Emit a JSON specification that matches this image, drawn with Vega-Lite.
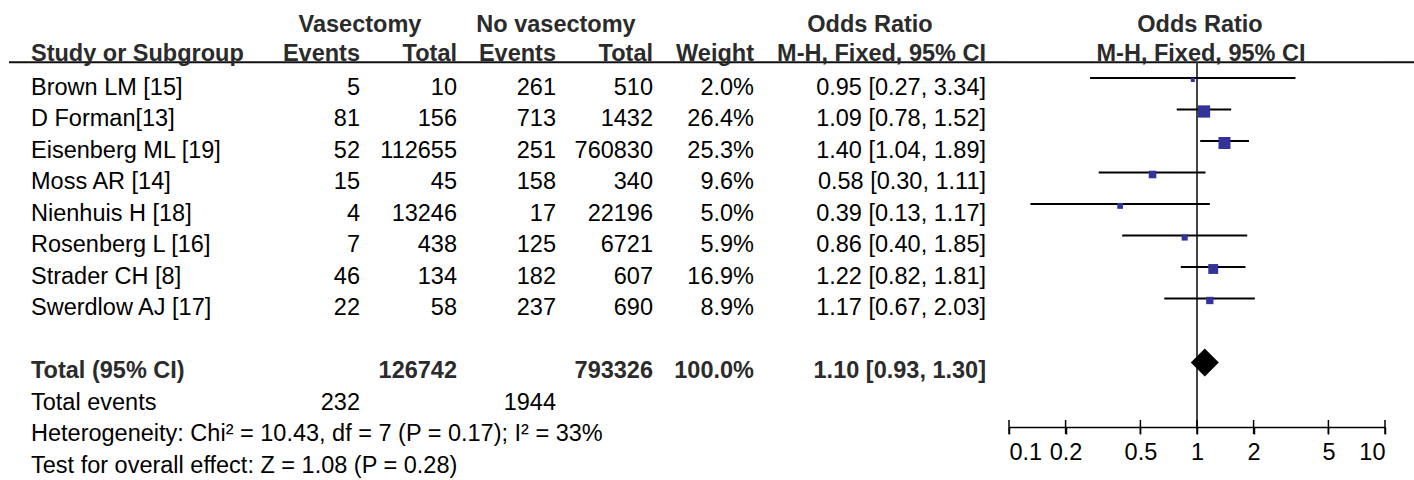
{
  "$schema": "https://vega.github.io/schema/vega-lite/v6.json",
  "padding": {"left": 8, "top": 0, "right": 0, "bottom": 0},
  "bounds": "flush",
  "spacing": 0,
  "config": {
    "view": {"stroke": null},
    "text": {"font": "Liberation Sans", "fontSize": 23.5, "baseline": "alphabetic", "dy": 17, "color": "#000"}
  },
  "datasets": {
    "table": [
      {"row": 0, "study": "Brown LM [15]", "ev1": 5, "tot1": 10, "ev2": 261, "tot2": 510, "w": 0.020, "ci": "0.95 [0.27, 3.34]", "or": 0.95, "lo": 0.27, "hi": 3.34},
      {"row": 1, "study": "D Forman[13]", "ev1": 81, "tot1": 156, "ev2": 713, "tot2": 1432, "w": 0.264, "ci": "1.09 [0.78, 1.52]", "or": 1.09, "lo": 0.78, "hi": 1.52},
      {"row": 2, "study": "Eisenberg ML [19]", "ev1": 52, "tot1": 112655, "ev2": 251, "tot2": 760830, "w": 0.253, "ci": "1.40 [1.04, 1.89]", "or": 1.40, "lo": 1.04, "hi": 1.89},
      {"row": 3, "study": "Moss AR [14]", "ev1": 15, "tot1": 45, "ev2": 158, "tot2": 340, "w": 0.096, "ci": "0.58 [0.30, 1.11]", "or": 0.58, "lo": 0.30, "hi": 1.11},
      {"row": 4, "study": "Nienhuis H [18]", "ev1": 4, "tot1": 13246, "ev2": 17, "tot2": 22196, "w": 0.050, "ci": "0.39 [0.13, 1.17]", "or": 0.39, "lo": 0.13, "hi": 1.17},
      {"row": 5, "study": "Rosenberg L [16]", "ev1": 7, "tot1": 438, "ev2": 125, "tot2": 6721, "w": 0.059, "ci": "0.86 [0.40, 1.85]", "or": 0.86, "lo": 0.40, "hi": 1.85},
      {"row": 6, "study": "Strader CH [8]", "ev1": 46, "tot1": 134, "ev2": 182, "tot2": 607, "w": 0.169, "ci": "1.22 [0.82, 1.81]", "or": 1.22, "lo": 0.82, "hi": 1.81},
      {"row": 7, "study": "Swerdlow AJ [17]", "ev1": 22, "tot1": 58, "ev2": 237, "tot2": 690, "w": 0.089, "ci": "1.17 [0.67, 2.03]", "or": 1.17, "lo": 0.67, "hi": 2.03},
      {"row": 9, "study": "Total (95% CI)", "tot1": 126742, "tot2": 793326, "w": 1.0, "ci": "1.10 [0.93, 1.30]", "or": 1.10, "lo": 0.93, "hi": 1.30},
      {"row": 10, "study": "Total events", "ev1": 232, "ev2": 1944},
      {"row": 11, "study": "Heterogeneity: Chi² = 10.43, df = 7 (P = 0.17); I² = 33%"},
      {"row": 12, "study": "Test for overall effect: Z = 1.08 (P = 0.28)"}
    ],
    "headers": [
      {"col": "study", "row": -1, "text": "Study or Subgroup"},
      {"col": "ev1", "row": -2, "text": "Vasectomy"},
      {"col": "ev1", "row": -1, "text": "Events"},
      {"col": "tot1", "row": -1, "text": "Total"},
      {"col": "ev2", "row": -2, "text": "No vasectomy"},
      {"col": "ev2", "row": -1, "text": "Events"},
      {"col": "tot2", "row": -1, "text": "Total"},
      {"col": "weight", "row": -1, "text": "Weight"},
      {"col": "ci", "row": -2, "text": "Odds Ratio"},
      {"col": "ci", "row": -1, "text": "M-H, Fixed, 95% CI"},
      {"col": "forest", "row": -2, "text": "Odds Ratio"},
      {"col": "forest", "row": -1, "text": "M-H, Fixed, 95% CI"}
    ],
    "ticks": [{"v": 0.1}, {"v": 0.2}, {"v": 0.5}, {"v": 1}, {"v": 2}, {"v": 5}, {"v": 10}],
    "one": [{}]
  },
  "hconcat": [
    {
      "width": 282, "height": 480,
      "layer": [
        {"data": {"name": "one"}, "mark": {"type": "rule", "strokeWidth": 2, "color": "#111"}, "encoding": {"y": {"datum": -0.5, "type": "quantitative", "scale": {"domain": [-2.476, 12.762], "reverse": true, "nice": false, "zero": false}, "axis": null}}},
        {"data": {"name": "table"}, "transform": [{"filter": "datum.row != 9"}], "mark": {"type": "text", "align": "left", "dx": 22},
         "encoding": {"x": {"datum": "c", "type": "nominal", "scale": {"type": "point", "align": 0}, "axis": null}, "y": {"field": "row", "type": "quantitative", "scale": {"domain": [-2.476, 12.762], "reverse": true, "nice": false, "zero": false}, "axis": null}, "text": {"field": "study", "type": "nominal"}}},
        {"data": {"name": "table"}, "transform": [{"filter": "datum.row == 9"}], "mark": {"type": "text", "align": "left", "dx": 22, "fontWeight": "bold", "color": "#2b2b2b"},
         "encoding": {"x": {"datum": "c", "type": "nominal", "scale": {"type": "point", "align": 0}, "axis": null}, "y": {"field": "row", "type": "quantitative", "scale": {"domain": [-2.476, 12.762], "reverse": true, "nice": false, "zero": false}, "axis": null}, "text": {"field": "study", "type": "nominal"}}},
        {"data": {"name": "headers"}, "transform": [{"filter": "datum.col == 'study'"}], "mark": {"type": "text", "align": "left", "dx": 22, "dy": 14.5, "fontWeight": "bold", "color": "#2b2b2b"},
         "encoding": {"x": {"datum": "c", "type": "nominal", "scale": {"type": "point", "align": 0}, "axis": null}, "y": {"field": "row", "type": "quantitative", "scale": {"domain": [-2.476, 12.762], "reverse": true, "nice": false, "zero": false}, "axis": null}, "text": {"field": "text", "type": "nominal"}}}
      ]
    },
    {
      "width": 69, "height": 480,
      "layer": [
        {"data": {"name": "one"}, "mark": {"type": "rule", "strokeWidth": 2, "color": "#111"}, "encoding": {"y": {"datum": -0.5, "type": "quantitative", "scale": {"domain": [-2.476, 12.762], "reverse": true, "nice": false, "zero": false}, "axis": null}}},
        {"data": {"name": "table"}, "transform": [{"filter": "isValid(datum.ev1)"}], "mark": {"type": "text", "align": "right"},
         "encoding": {"x": {"datum": "c", "type": "nominal", "scale": {"type": "point", "align": 1}, "axis": null}, "y": {"field": "row", "type": "quantitative", "scale": {"domain": [-2.476, 12.762], "reverse": true, "nice": false, "zero": false}, "axis": null}, "text": {"field": "ev1", "type": "quantitative", "format": "d"}}},
        {"data": {"name": "headers"}, "transform": [{"filter": "datum.col == 'ev1' && datum.row == -1"}], "mark": {"type": "text", "align": "right", "dy": 14.5, "fontWeight": "bold", "color": "#2b2b2b"},
         "encoding": {"x": {"datum": "c", "type": "nominal", "scale": {"type": "point", "align": 1}, "axis": null}, "y": {"field": "row", "type": "quantitative", "scale": {"domain": [-2.476, 12.762], "reverse": true, "nice": false, "zero": false}, "axis": null}, "text": {"field": "text", "type": "nominal"}}},
        {"data": {"name": "headers"}, "transform": [{"filter": "datum.col == 'ev1' && datum.row == -2"}], "mark": {"type": "text", "align": "center", "fontWeight": "bold", "color": "#2b2b2b"},
         "encoding": {"x": {"datum": "c", "type": "nominal", "scale": {"type": "point", "align": 1}, "axis": null}, "y": {"field": "row", "type": "quantitative", "scale": {"domain": [-2.476, 12.762], "reverse": true, "nice": false, "zero": false}, "axis": null}, "text": {"field": "text", "type": "nominal"}}}
      ]
    },
    {
      "width": 97, "height": 480,
      "layer": [
        {"data": {"name": "one"}, "mark": {"type": "rule", "strokeWidth": 2, "color": "#111"}, "encoding": {"y": {"datum": -0.5, "type": "quantitative", "scale": {"domain": [-2.476, 12.762], "reverse": true, "nice": false, "zero": false}, "axis": null}}},
        {"data": {"name": "table"}, "transform": [{"filter": "datum.row != 9 && isValid(datum.tot1)"}], "mark": {"type": "text", "align": "right"},
         "encoding": {"x": {"datum": "c", "type": "nominal", "scale": {"type": "point", "align": 1}, "axis": null}, "y": {"field": "row", "type": "quantitative", "scale": {"domain": [-2.476, 12.762], "reverse": true, "nice": false, "zero": false}, "axis": null}, "text": {"field": "tot1", "type": "quantitative", "format": "d"}}},
        {"data": {"name": "table"}, "transform": [{"filter": "datum.row == 9"}], "mark": {"type": "text", "align": "right", "fontWeight": "bold", "color": "#2b2b2b"},
         "encoding": {"x": {"datum": "c", "type": "nominal", "scale": {"type": "point", "align": 1}, "axis": null}, "y": {"field": "row", "type": "quantitative", "scale": {"domain": [-2.476, 12.762], "reverse": true, "nice": false, "zero": false}, "axis": null}, "text": {"field": "tot1", "type": "quantitative", "format": "d"}}},
        {"data": {"name": "headers"}, "transform": [{"filter": "datum.col == 'tot1'"}], "mark": {"type": "text", "align": "right", "dy": 14.5, "fontWeight": "bold", "color": "#2b2b2b"},
         "encoding": {"x": {"datum": "c", "type": "nominal", "scale": {"type": "point", "align": 1}, "axis": null}, "y": {"field": "row", "type": "quantitative", "scale": {"domain": [-2.476, 12.762], "reverse": true, "nice": false, "zero": false}, "axis": null}, "text": {"field": "text", "type": "nominal"}}}
      ]
    },
    {
      "width": 99, "height": 480,
      "layer": [
        {"data": {"name": "one"}, "mark": {"type": "rule", "strokeWidth": 2, "color": "#111"}, "encoding": {"y": {"datum": -0.5, "type": "quantitative", "scale": {"domain": [-2.476, 12.762], "reverse": true, "nice": false, "zero": false}, "axis": null}}},
        {"data": {"name": "table"}, "transform": [{"filter": "isValid(datum.ev2)"}], "mark": {"type": "text", "align": "right"},
         "encoding": {"x": {"datum": "c", "type": "nominal", "scale": {"type": "point", "align": 1}, "axis": null}, "y": {"field": "row", "type": "quantitative", "scale": {"domain": [-2.476, 12.762], "reverse": true, "nice": false, "zero": false}, "axis": null}, "text": {"field": "ev2", "type": "quantitative", "format": "d"}}},
        {"data": {"name": "headers"}, "transform": [{"filter": "datum.col == 'ev2' && datum.row == -1"}], "mark": {"type": "text", "align": "right", "dy": 14.5, "fontWeight": "bold", "color": "#2b2b2b"},
         "encoding": {"x": {"datum": "c", "type": "nominal", "scale": {"type": "point", "align": 1}, "axis": null}, "y": {"field": "row", "type": "quantitative", "scale": {"domain": [-2.476, 12.762], "reverse": true, "nice": false, "zero": false}, "axis": null}, "text": {"field": "text", "type": "nominal"}}},
        {"data": {"name": "headers"}, "transform": [{"filter": "datum.col == 'ev2' && datum.row == -2"}], "mark": {"type": "text", "align": "center", "fontWeight": "bold", "color": "#2b2b2b"},
         "encoding": {"x": {"datum": "c", "type": "nominal", "scale": {"type": "point", "align": 1}, "axis": null}, "y": {"field": "row", "type": "quantitative", "scale": {"domain": [-2.476, 12.762], "reverse": true, "nice": false, "zero": false}, "axis": null}, "text": {"field": "text", "type": "nominal"}}}
      ]
    },
    {
      "width": 97, "height": 480,
      "layer": [
        {"data": {"name": "one"}, "mark": {"type": "rule", "strokeWidth": 2, "color": "#111"}, "encoding": {"y": {"datum": -0.5, "type": "quantitative", "scale": {"domain": [-2.476, 12.762], "reverse": true, "nice": false, "zero": false}, "axis": null}}},
        {"data": {"name": "table"}, "transform": [{"filter": "datum.row != 9 && isValid(datum.tot2)"}], "mark": {"type": "text", "align": "right"},
         "encoding": {"x": {"datum": "c", "type": "nominal", "scale": {"type": "point", "align": 1}, "axis": null}, "y": {"field": "row", "type": "quantitative", "scale": {"domain": [-2.476, 12.762], "reverse": true, "nice": false, "zero": false}, "axis": null}, "text": {"field": "tot2", "type": "quantitative", "format": "d"}}},
        {"data": {"name": "table"}, "transform": [{"filter": "datum.row == 9"}], "mark": {"type": "text", "align": "right", "fontWeight": "bold", "color": "#2b2b2b"},
         "encoding": {"x": {"datum": "c", "type": "nominal", "scale": {"type": "point", "align": 1}, "axis": null}, "y": {"field": "row", "type": "quantitative", "scale": {"domain": [-2.476, 12.762], "reverse": true, "nice": false, "zero": false}, "axis": null}, "text": {"field": "tot2", "type": "quantitative", "format": "d"}}},
        {"data": {"name": "headers"}, "transform": [{"filter": "datum.col == 'tot2'"}], "mark": {"type": "text", "align": "right", "dy": 14.5, "fontWeight": "bold", "color": "#2b2b2b"},
         "encoding": {"x": {"datum": "c", "type": "nominal", "scale": {"type": "point", "align": 1}, "axis": null}, "y": {"field": "row", "type": "quantitative", "scale": {"domain": [-2.476, 12.762], "reverse": true, "nice": false, "zero": false}, "axis": null}, "text": {"field": "text", "type": "nominal"}}}
      ]
    },
    {
      "width": 101, "height": 480,
      "layer": [
        {"data": {"name": "one"}, "mark": {"type": "rule", "strokeWidth": 2, "color": "#111"}, "encoding": {"y": {"datum": -0.5, "type": "quantitative", "scale": {"domain": [-2.476, 12.762], "reverse": true, "nice": false, "zero": false}, "axis": null}}},
        {"data": {"name": "table"}, "transform": [{"filter": "datum.row != 9 && isValid(datum.w)"}], "mark": {"type": "text", "align": "right"},
         "encoding": {"x": {"datum": "c", "type": "nominal", "scale": {"type": "point", "align": 1}, "axis": null}, "y": {"field": "row", "type": "quantitative", "scale": {"domain": [-2.476, 12.762], "reverse": true, "nice": false, "zero": false}, "axis": null}, "text": {"field": "w", "type": "quantitative", "format": ".1%"}}},
        {"data": {"name": "table"}, "transform": [{"filter": "datum.row == 9"}], "mark": {"type": "text", "align": "right", "fontWeight": "bold", "color": "#2b2b2b"},
         "encoding": {"x": {"datum": "c", "type": "nominal", "scale": {"type": "point", "align": 1}, "axis": null}, "y": {"field": "row", "type": "quantitative", "scale": {"domain": [-2.476, 12.762], "reverse": true, "nice": false, "zero": false}, "axis": null}, "text": {"field": "w", "type": "quantitative", "format": ".1%"}}},
        {"data": {"name": "headers"}, "transform": [{"filter": "datum.col == 'weight'"}], "mark": {"type": "text", "align": "right", "dy": 14.5, "fontWeight": "bold", "color": "#2b2b2b"},
         "encoding": {"x": {"datum": "c", "type": "nominal", "scale": {"type": "point", "align": 1}, "axis": null}, "y": {"field": "row", "type": "quantitative", "scale": {"domain": [-2.476, 12.762], "reverse": true, "nice": false, "zero": false}, "axis": null}, "text": {"field": "text", "type": "nominal"}}}
      ]
    },
    {
      "width": 232, "height": 480,
      "layer": [
        {"data": {"name": "one"}, "mark": {"type": "rule", "strokeWidth": 2, "color": "#111"}, "encoding": {"y": {"datum": -0.5, "type": "quantitative", "scale": {"domain": [-2.476, 12.762], "reverse": true, "nice": false, "zero": false}, "axis": null}}},
        {"data": {"name": "table"}, "transform": [{"filter": "datum.row != 9 && isValid(datum.ci)"}], "mark": {"type": "text", "align": "right"},
         "encoding": {"x": {"datum": "c", "type": "nominal", "scale": {"type": "point", "align": 1}, "axis": null}, "y": {"field": "row", "type": "quantitative", "scale": {"domain": [-2.476, 12.762], "reverse": true, "nice": false, "zero": false}, "axis": null}, "text": {"field": "ci", "type": "nominal"}}},
        {"data": {"name": "table"}, "transform": [{"filter": "datum.row == 9"}], "mark": {"type": "text", "align": "right", "fontWeight": "bold", "color": "#2b2b2b"},
         "encoding": {"x": {"datum": "c", "type": "nominal", "scale": {"type": "point", "align": 1}, "axis": null}, "y": {"field": "row", "type": "quantitative", "scale": {"domain": [-2.476, 12.762], "reverse": true, "nice": false, "zero": false}, "axis": null}, "text": {"field": "ci", "type": "nominal"}}},
        {"data": {"name": "headers"}, "transform": [{"filter": "datum.col == 'ci' && datum.row == -1"}], "mark": {"type": "text", "align": "right", "dy": 14.5, "fontWeight": "bold", "color": "#2b2b2b"},
         "encoding": {"x": {"datum": "c", "type": "nominal", "scale": {"type": "point", "align": 1}, "axis": null}, "y": {"field": "row", "type": "quantitative", "scale": {"domain": [-2.476, 12.762], "reverse": true, "nice": false, "zero": false}, "axis": null}, "text": {"field": "text", "type": "nominal"}}},
        {"data": {"name": "headers"}, "transform": [{"filter": "datum.col == 'ci' && datum.row == -2"}], "mark": {"type": "text", "align": "center", "fontWeight": "bold", "color": "#2b2b2b"},
         "encoding": {"y": {"field": "row", "type": "quantitative", "scale": {"domain": [-2.476, 12.762], "reverse": true, "nice": false, "zero": false}, "axis": null}, "text": {"field": "text", "type": "nominal"}}}
      ]
    },
    {
      "width": 23, "height": 480,
      "layer": [
        {"data": {"name": "one"}, "mark": {"type": "rule", "strokeWidth": 2, "color": "#111"}, "encoding": {"y": {"datum": -0.5, "type": "quantitative", "scale": {"domain": [-2.476, 12.762], "reverse": true, "nice": false, "zero": false}, "axis": null}}}
      ]
    },
    {
      "width": 376, "height": 480,
      "layer": [
        {"data": {"name": "one"}, "mark": {"type": "rule", "strokeWidth": 2, "color": "#111"}, "encoding": {"y": {"datum": -0.5, "type": "quantitative", "scale": {"domain": [-2.476, 12.762], "reverse": true, "nice": false, "zero": false}, "axis": null}}},
        {"data": {"name": "one"}, "mark": {"type": "rule", "strokeWidth": 2, "color": "#444"},
         "encoding": {
           "x": {"datum": 1, "type": "quantitative", "scale": {"type": "log", "domain": [0.1, 10], "nice": false},
                 "axis": {"values": [0.1, 0.2, 0.5, 1, 2, 5, 10], "format": "~g", "orient": "bottom", "offset": -53, "title": null, "grid": false,
                          "domainColor": "#000", "domainWidth": 1.5, "tickColor": "#000", "tickWidth": 1.5, "tickSize": 7, "labelPadding": 6.5,
                          "labelFlush": true, "labelOverlap": false, "labelBound": false, "labelFont": "Liberation Sans", "labelFontSize": 23.5, "labelColor": "#000"}},
           "y": {"datum": -0.5, "type": "quantitative", "scale": {"domain": [-2.476, 12.762], "reverse": true, "nice": false, "zero": false}, "axis": null},
           "y2": {"datum": 11.08}
         }},
        {"data": {"name": "table"}, "transform": [{"filter": "datum.row <= 7"}], "mark": {"type": "rule", "strokeWidth": 2, "color": "#000"},
         "encoding": {
           "x": {"field": "lo", "type": "quantitative", "scale": {"type": "log", "domain": [0.1, 10], "nice": false}},
           "x2": {"field": "hi"},
           "y": {"field": "row", "type": "quantitative", "scale": {"domain": [-2.476, 12.762], "reverse": true, "nice": false, "zero": false}, "axis": null}
         }},
        {"data": {"name": "table"}, "transform": [{"filter": "datum.row <= 7"}], "mark": {"type": "point", "shape": "square", "filled": true, "color": "#333399", "opacity": 1, "yOffset": 2},
         "encoding": {
           "x": {"field": "or", "type": "quantitative", "scale": {"type": "log", "domain": [0.1, 10], "nice": false}},
           "y": {"field": "row", "type": "quantitative", "scale": {"domain": [-2.476, 12.762], "reverse": true, "nice": false, "zero": false}, "axis": null},
           "size": {"field": "w", "type": "quantitative", "scale": {"domain": [0, 0.264], "range": [5, 150]}, "legend": null}
         }},
        {"data": {"name": "table"}, "transform": [{"filter": "datum.row == 9"}], "mark": {"type": "point", "shape": "diamond", "filled": true, "color": "#000", "opacity": 1, "size": 784, "yOffset": 1},
         "encoding": {
           "x": {"field": "or", "type": "quantitative", "scale": {"type": "log", "domain": [0.1, 10], "nice": false}},
           "y": {"field": "row", "type": "quantitative", "scale": {"domain": [-2.476, 12.762], "reverse": true, "nice": false, "zero": false}, "axis": null}
         }},
        {"data": {"name": "ticks"}, "mark": {"type": "rule", "strokeWidth": 1.5, "color": "#000"},
         "encoding": {
           "x": {"field": "v", "type": "quantitative", "scale": {"type": "log", "domain": [0.1, 10], "nice": false}},
           "y": {"datum": 10.857, "type": "quantitative", "scale": {"domain": [-2.476, 12.762], "reverse": true, "nice": false, "zero": false}, "axis": null},
           "y2": {"datum": 11.302}
         }},
        {"data": {"name": "headers"}, "transform": [{"filter": "datum.col == 'forest' && datum.row == -2"}], "mark": {"type": "text", "align": "center", "dx": 3, "fontWeight": "bold", "color": "#2b2b2b"},
         "encoding": {
           "x": {"datum": 1, "type": "quantitative", "scale": {"type": "log", "domain": [0.1, 10], "nice": false}},
           "y": {"field": "row", "type": "quantitative", "scale": {"domain": [-2.476, 12.762], "reverse": true, "nice": false, "zero": false}, "axis": null},
           "text": {"field": "text", "type": "nominal"}
         }},
        {"data": {"name": "headers"}, "transform": [{"filter": "datum.col == 'forest' && datum.row == -1"}], "mark": {"type": "text", "align": "center", "dx": 4, "dy": 14.5, "fontWeight": "bold", "color": "#2b2b2b"},
         "encoding": {
           "x": {"datum": 1, "type": "quantitative", "scale": {"type": "log", "domain": [0.1, 10], "nice": false}},
           "y": {"field": "row", "type": "quantitative", "scale": {"domain": [-2.476, 12.762], "reverse": true, "nice": false, "zero": false}, "axis": null},
           "text": {"field": "text", "type": "nominal"}
         }}
      ]
    },
    {
      "width": 30, "height": 480,
      "layer": [
        {"data": {"name": "one"}, "mark": {"type": "rule", "strokeWidth": 2, "color": "#111"}, "encoding": {"y": {"datum": -0.5, "type": "quantitative", "scale": {"domain": [-2.476, 12.762], "reverse": true, "nice": false, "zero": false}, "axis": null}}}
      ]
    }
  ]
}
